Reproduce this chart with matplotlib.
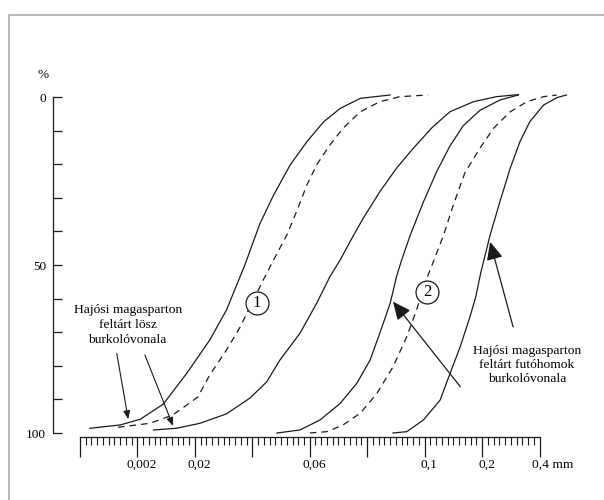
import matplotlib
matplotlib.use('Agg')
import matplotlib.pyplot as plt
from matplotlib.patches import Rectangle
from matplotlib.transforms import ScaledTranslation

plt.rcParams['font.family'] = ['Liberation Serif', 'DejaVu Serif']

# x = position along the ruler (1 = one major division), y = percent
ruler_ticks = [0, 1, 2, 3, 4, 5, 6, 7, 8]
ruler_labels = ['', '0,002', '0,02', '', '0,06', '', '0,1', '0,2', '0,4 mm']
pct_ticks = [0, 10, 20, 30, 40, 50, 60, 70, 80, 90, 100]
pct_labels = ['0', '', '', '', '', '50', '', '', '', '', '100']

# lösz envelope (left) solid
c1_x = [0.17, 0.70, 1.05, 1.45, 1.86, 2.26, 2.55, 2.87, 3.13, 3.37, 3.66, 3.95, 4.24, 4.53, 4.88, 5.40]
c1_y = [98.6, 97.6, 95.9, 91.4, 82.2, 72.3, 63.4, 50.0, 37.8, 29.2, 20.2, 13.3, 7.4, 3.4, 0.4, -0.6]

# curve 1 (dashed)
c2_x = [0.66, 1.22, 1.62, 2.05, 2.26, 2.55, 2.79, 2.99, 3.19, 3.37, 3.60, 3.77, 3.95, 4.12, 4.35, 4.58, 4.88, 5.22, 5.57, 6.06]
c2_y = [98.3, 97.1, 94.6, 89.3, 82.7, 75.3, 68.4, 61.4, 54.5, 48.5, 41.1, 34.1, 26.2, 20.2, 14.3, 9.3, 4.4, 1.4, -0.1, -0.6]

# lösz envelope (right) solid
c3_x = [1.28, 1.68, 2.09, 2.55, 2.96, 3.25, 3.48, 3.83, 4.12, 4.35, 4.53, 4.70, 4.93, 5.22, 5.51, 5.80, 6.13, 6.44, 6.85, 7.25, 7.63]
c3_y = [99.1, 98.6, 97.1, 94.3, 89.6, 84.8, 78.3, 70.3, 61.4, 53.5, 48.5, 43.1, 36.1, 28.2, 21.2, 15.3, 9.1, 4.4, 1.4, -0.1, -0.7]

# futóhomok envelope (left) solid
c4_x = [3.43, 3.83, 4.18, 4.53, 4.82, 5.05, 5.22, 5.40, 5.51, 5.60, 5.75, 5.98, 6.21, 6.44, 6.67, 6.96, 7.31, 7.63]
c4_y = [100.0, 99.1, 96.1, 91.2, 85.2, 78.3, 70.3, 61.4, 53.5, 48.5, 41.1, 31.2, 22.2, 14.6, 8.6, 4.0, 0.9, -0.6]

# curve 2 (dashed)
c5_x = [4.00, 4.30, 4.58, 4.88, 5.17, 5.45, 5.69, 5.86, 5.98, 6.15, 6.33, 6.50, 6.70, 6.96, 7.20, 7.49, 7.78, 8.07, 8.30]
c5_y = [100.0, 99.6, 97.6, 94.1, 88.2, 80.3, 71.3, 63.4, 56.5, 49.1, 41.1, 32.1, 22.6, 15.3, 9.3, 4.4, 1.4, -0.1, -0.6]

# futóhomok envelope (right) solid
c6_x = [5.45, 5.69, 5.98, 6.27, 6.42, 6.62, 6.79, 6.89, 6.98, 7.14, 7.31, 7.49, 7.66, 7.83, 8.07, 8.30, 8.47]
c6_y = [100.0, 99.6, 96.1, 90.2, 83.3, 74.3, 65.4, 59.5, 52.1, 41.1, 31.2, 21.2, 13.3, 7.4, 2.4, 0.2, -0.6]

ink = '#1a1a1a'

fig = plt.figure(figsize=(6.04, 5.0), dpi=100)
fig.patch.set_facecolor('white')
ax = fig.add_axes([80 / 604, 67 / 500, 459.5 / 604, 336 / 500])
ax.set_xlim(0, 8)
ax.set_ylim(100, 0)

for xs, ys, ls in [(c1_x, c1_y, '-'), (c2_x, c2_y, '--'), (c3_x, c3_y, '-'),
                   (c4_x, c4_y, '-'), (c5_x, c5_y, '--'), (c6_x, c6_y, '-')]:
    line, = ax.plot(xs, ys, color=ink, lw=0.9, ls=ls, clip_on=False, zorder=2)
    if ls == '--':
        line.set_dashes((5.3, 4.0))

# spines / ruler
for s in ['top', 'right']:
    ax.spines[s].set_visible(False)
ax.spines['left'].set_position(('outward', 19.4))
ax.spines['bottom'].set_position(('outward', 2.9))
ax.spines['left'].set_linewidth(0.9)
ax.spines['bottom'].set_linewidth(0.9)
ax.spines['left'].set_color(ink)
ax.spines['bottom'].set_color(ink)

ax.set_yticks(pct_ticks)
ax.set_yticklabels(pct_labels)
ax.tick_params(axis='y', direction='in', length=6.5, width=0.9, pad=5, labelsize=9.5, color=ink)

ax.set_xticks(ruler_ticks)
ax.set_xticklabels(ruler_labels)
ax.set_xticks([i / 10 for i in range(81) if i % 10 != 0], minor=True)
ax.tick_params(axis='x', which='major', direction='out', length=14.4, width=0.9, pad=1, labelsize=9.7, color=ink)
ax.tick_params(axis='x', which='minor', direction='out', length=5.8, width=0.8, color=ink)
for i, lab in enumerate(ax.get_xticklabels()):
    dx = 13.5 if i == 8 else 4.5
    lab.set_transform(lab.get_transform() + ScaledTranslation(dx / 100, 0, fig.dpi_scale_trans))

ax.text(-0.644, -6.5, '%', ha='center', va='center', fontsize=9.5, clip_on=False)

# circled numbers
for cx, cy, num in [(3.08, 61.3, '1'), (6.04, 58.0, '2')]:
    ax.plot(cx, cy, 'o', ms=16.5, mfc='white', mec=ink, mew=0.9, zorder=3, clip_on=False)
    ax.text(cx, cy, num, ha='center', va='center', fontsize=12, zorder=4)

# annotations
ax.text(0.83, 67.9, 'Hajósi magasparton\nfeltárt lösz\nburkolóvonala',
        ha='center', va='center', fontsize=9.7, linespacing=1.3)
ax.text(7.78, 79.8, 'Hajósi magasparton\nfeltárt futóhomok\nburkolóvonala',
        ha='center', va='center', fontsize=9.7, linespacing=1.25, clip_on=False)

small = dict(arrowstyle='-|>,head_length=0.5,head_width=0.2', mutation_scale=10,
             color=ink, lw=0.8, shrinkA=0, shrinkB=0)
ax.annotate('', xy=(0.84, 95.9), xytext=(0.64, 76.3), arrowprops=small)
ax.annotate('', xy=(1.62, 97.9), xytext=(1.13, 76.8), arrowprops=small)

big = dict(arrowstyle='-|>,head_length=0.55,head_width=0.25', mutation_scale=20,
           color=ink, lw=0.9, shrinkA=0, shrinkB=0)
ax.annotate('', xy=(5.45, 60.9), xytext=(6.62, 86.2), arrowprops=big)
ax.annotate('', xy=(7.14, 43.1), xytext=(7.54, 68.4), arrowprops=big)

# grey frame of the picture
fig.patches.append(Rectangle((9 / 604, -0.1), 1.2, 485 / 500 + 0.1, transform=fig.transFigure,
                             fill=False, ec='#a9a9a9', lw=1.2))

fig.savefig('out.png', dpi=100)
